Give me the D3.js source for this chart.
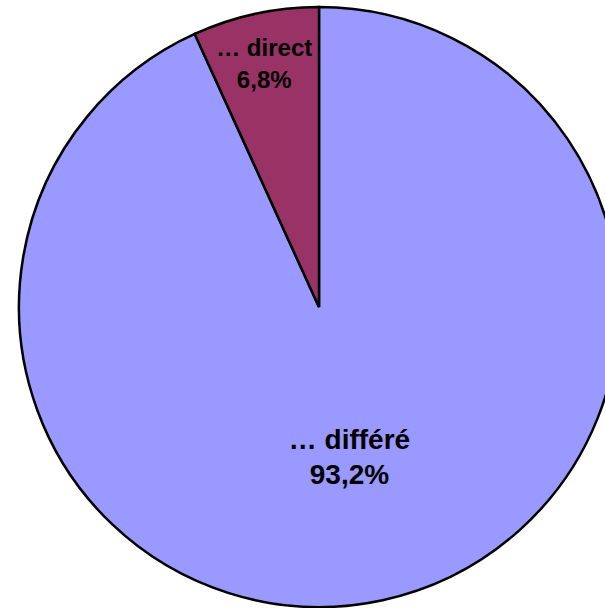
<!DOCTYPE html>
<html lang="fr">
<head>
<meta charset="utf-8">
<style>
  body { margin: 0; background: #fff; }
  svg { display: block; }
  .label { font-family: "Liberation Sans", Arial, sans-serif; font-weight: bold; fill: #000; }
</style>
<script src="https://d3js.org/d3.v7.min.js"></script>
</head>
<body>
<div id="chart"></div>
<script>
// slices, clockwise from 12 o'clock
var categories = ["… différé", "… direct"];
var values = [93.2, 6.8];
var colors = ["#9999ff", "#993366"];

var width = 605,
    height = 608,
    radius = 300,
    cx = 319,
    cy = 307;

var svg = d3.select("#chart").append("svg")
    .attr("width", width)
    .attr("height", height);

var g = svg.append("g")
    .attr("transform", "translate(" + cx + "," + cy + ")");

var pie = d3.pie().sort(null).value(function(d) { return d; });
var arcs = pie(values);

var arc = d3.arc().innerRadius(0).outerRadius(radius);

g.selectAll("path.slice")
    .data(arcs)
  .enter().append("path")
    .attr("class", "slice")
    .attr("d", arc)
    .attr("fill", function(d, i) { return colors[i]; })
    .attr("stroke", "#000")
    .attr("stroke-width", 2.5)
    .attr("stroke-linejoin", "miter");

// excel puts the small slice label further out, and smaller
function isBig(d) { return d.value > 50; }
function labelPos(d) {
  var k = isBig(d) ? 0.51 : 0.83;
  var a = (d.startAngle + d.endAngle) / 2;
  return [Math.sin(a) * radius * k - 2, -Math.cos(a) * radius * k];
}

var labels = g.selectAll("text.label")
    .data(arcs)
  .enter().append("text")
    .attr("class", "label")
    .attr("text-anchor", "middle")
    .style("font-size", function(d) { return isBig(d) ? "28px" : "24px"; })
    .attr("transform", function(d) { return "translate(" + labelPos(d) + ")"; });

labels.append("tspan")
    .attr("x", 0)
    .attr("y", -8)
    .text(function(d, i) { return categories[i]; });
labels.append("tspan")
    .attr("x", 0)
    .attr("y", function(d) { return isBig(d) ? 27 : 24; })
    .text(function(d) { return d3.format(".1f")(d.value).replace(".", ",") + "%"; });
</script>
</body>
</html>
